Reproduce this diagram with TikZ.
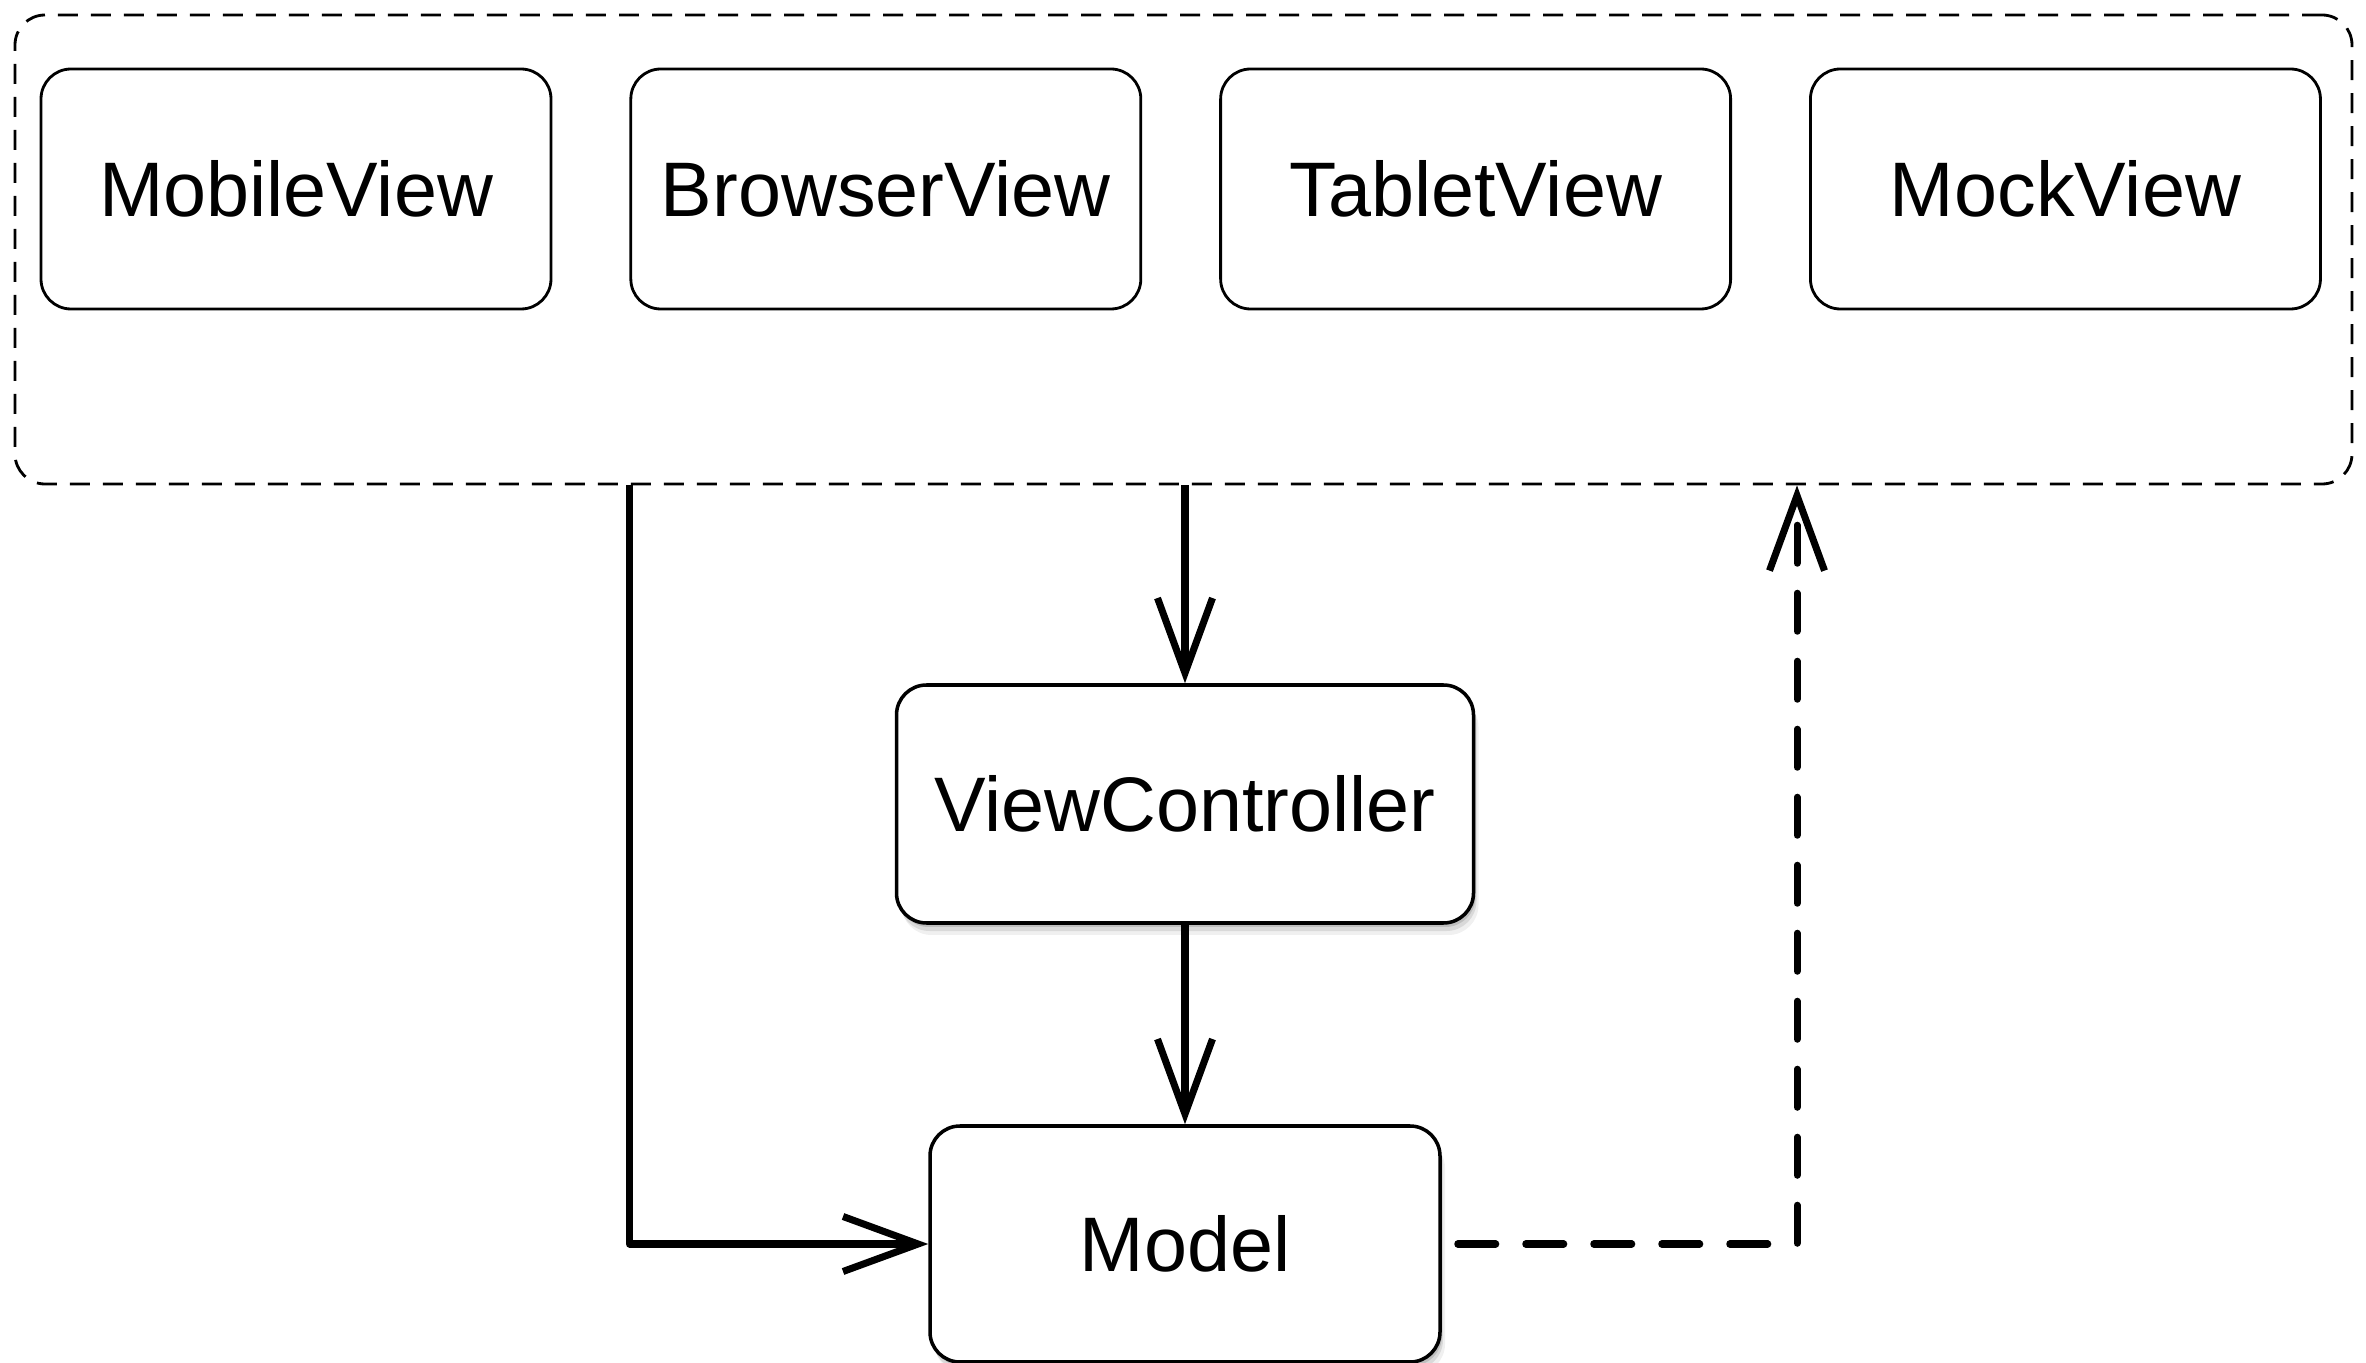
\documentclass[tikz,border=0pt]{standalone}
\usepackage{fontspec}
\setmainfont{Liberation Sans}
\usetikzlibrary{arrows.meta,positioning,shadows}

\begin{document}
\begin{tikzpicture}[x=1cm,y=-1cm,
    viewbox/.style={draw,rounded corners=0.3cm,line width=0.8pt,
      minimum width=5.10cm,minimum height=2.40cm,
      font=\fontsize{22}{26}\selectfont},
    corebox/.style={viewbox,fill=white,line width=1pt,
      drop shadow={shadow xshift=0.05cm,shadow yshift=-0.12cm,opacity=0.12},
      drop shadow={shadow xshift=0.03cm,shadow yshift=-0.08cm,opacity=0.2},
      drop shadow={shadow xshift=0.02cm,shadow yshift=-0.04cm,opacity=0.3}},
    groupbox/.style={draw,dashed,dash pattern=on 0.2cm off 0.13cm,
      rounded corners=0.3cm,line width=0.8pt,
      minimum width=23.37cm,minimum height=4.69cm},
    flow/.style={line width=2pt,-{Straight Barb[length=0.75cm,width=0.55cm]}},
    back/.style={flow,line cap=round,dash pattern=on 0.38cm off 0.3cm}]
  \useasboundingbox (0,0) rectangle (23.66,13.63);

  % the views
  \node[groupbox] (views) at (11.835,2.495) {};
  \node[viewbox] (mobile) at (2.96,1.89) {MobileView};
  \node[viewbox,right=0.77cm of mobile] (browser) {BrowserView};
  \node[viewbox,right=0.77cm of browser] (tablet) {TabletView};
  \node[viewbox,right=0.77cm of tablet] (mock) {MockView};

  % controller and model
  \node[corebox,minimum width=5.77cm,minimum height=2.38cm] (vc) at (11.85,8.04) {ViewController};
  \node[corebox,minimum height=2.36cm] (model) at (11.85,12.44) {Model};
  \coordinate (ret) at (17.97,0);

  \draw[flow,line join=round] (views.south -| browser.west) |- (model.west);
  \draw[flow] (views.south -| vc.north) -- (vc.north);
  \draw[flow] (vc.south) -- (model.north);
  \draw[back] ([xshift=0.16cm]model.east) -| (views.south -| ret);
\end{tikzpicture}
\end{document}
